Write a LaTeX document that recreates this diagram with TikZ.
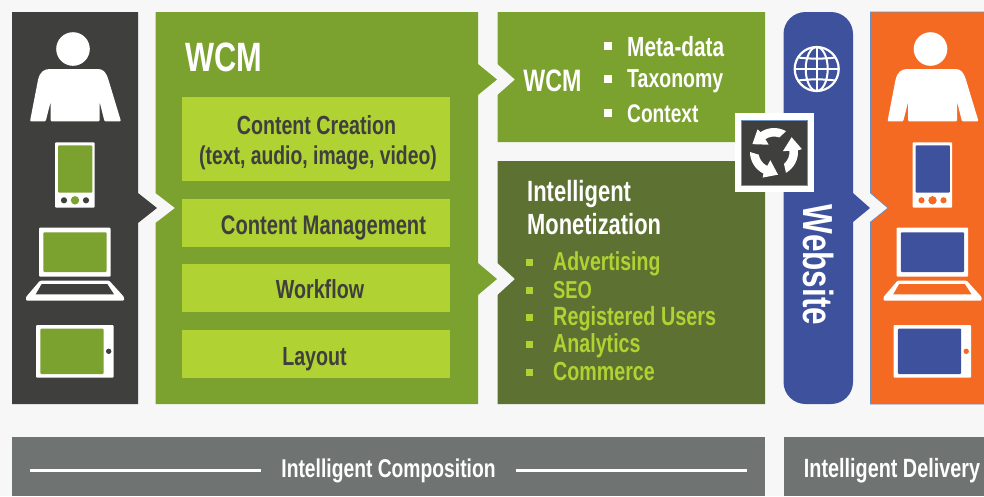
\documentclass[tikz,border=0pt]{standalone}
\usepackage{fontspec}
\setmainfont[FakeStretch=0.75,BoldFont={Liberation Sans Bold}]{Liberation Sans}
\definecolor{bgc}{HTML}{F7F7F7}
\definecolor{darkc}{HTML}{3F3F3D}
\definecolor{greenc}{HTML}{7BA12E}
\definecolor{limec}{HTML}{B0D233}
\definecolor{olivec}{HTML}{5D7132}
\definecolor{bluec}{HTML}{3E519D}
\definecolor{orangec}{HTML}{F46A22}
\definecolor{grayc}{HTML}{6F7472}
\definecolor{edgec}{HTML}{6A8FC0}
\tikzset{
  x=1pt,y=-1pt,
  lbl/.style={inner sep=0pt,anchor=base,font=\bfseries\fontsize{#1}{#1}\selectfont},
  whitetxt/.style={lbl=#1,text=white},
  darktxt/.style={lbl=#1,text=darkc},
  limetxt/.style={lbl=#1,text=limec},
  limebox/.style={fill=limec,draw=none},
}
% user icons: #1 x offset, #2 panel colour, #3 screen colour, #4 side dots, #5 middle dot
\newcommand{\devices}[5]{%
\begin{scope}[xshift=#1pt]
  \fill[white] (73,49) circle[radius=16.8];
  \fill[white,rounded corners=1pt] (30,121.3) -- (38,80) .. controls (40,72) and (44,69) .. (51,69) -- (97,69)
     .. controls (103,69) and (106,72) .. (108.5,80) -- (121,121.3) -- (104.5,121.3) -- (99.5,101.5) -- (99.5,121.3) -- (50.7,121.3) -- (50.7,101.5) -- (45.7,121.3) -- cycle;
  \fill[white,rounded corners=1pt] (55,142.3) rectangle (94.7,207.7);
  \fill[#3,rounded corners=1pt] (58,145.3) rectangle (92.3,192.7);
  \fill[#4] (64,200.3) circle[radius=3.1] (86,200.3) circle[radius=3.1];
  \fill[#5] (75,200.3) circle[radius=4.2];
  \fill[white,rounded corners=1pt] (39,227.7) rectangle (110.7,276.7);
  \fill[#3,rounded corners=1pt] (43.3,232.3) rectangle (106.7,272);
  \fill[white,rounded corners=1pt] (40,280.7) -- (109.3,280.7) -- (124,297) -- (124,300.7) -- (26,300.7) -- (26,297) -- cycle;
  \fill[#2] (41.7,284) -- (107.3,284) -- (114,294.3) -- (35.7,294.3) -- cycle;
  \fill[white,rounded corners=1pt] (36,325) rectangle (113.7,377.7);
  \fill[#3,rounded corners=1pt] (40.3,328.7) rectangle (103.7,374);
  \fill[#2] (108.7,351.3) circle[radius=2.7];
\end{scope}}
\begin{document}
\begin{tikzpicture}
\useasboundingbox (0,0) rectangle (984,496);
\fill[bgc] (0,0) rectangle (984,496);
% panels
\fill[darkc] (12,12) -- (138,12) -- (138,193) -- (157,208) -- (138,223) -- (138,404) -- (12,404) -- cycle;
\fill[greenc] (155.5,12) -- (478,12) -- (478,64) -- (497,79.5) -- (478,95) -- (478,263) -- (497,279) -- (478,295) -- (478,404) -- (155.5,404) -- (155.5,223) -- (175,208) -- (155.5,193) -- cycle;
\fill[greenc] (497.5,12) -- (765,12) -- (765,142) -- (497.5,142) -- (497.5,95) -- (515,79.5) -- (497.5,64) -- cycle;
\fill[olivec] (497.5,161) -- (765,161) -- (765,404) -- (497.5,404) -- (497.5,295) -- (515,279) -- (497.5,263) -- cycle;
\fill[bluec,rounded corners=22pt] (783.5,404) -- (783.5,12) -- (853,12) -- (853,404) -- cycle;
\fill[bluec] (852,193) -- (853,193) -- (870,208) -- (853,222) -- (852,222) -- cycle;
\fill[orangec,draw=edgec,line width=0.7pt] (990,12) -- (870.5,12) -- (870.5,193) -- (888,208) -- (870.5,222) -- (870.5,404) -- (990,404);
% inner boxes
\fill[limebox] (182,97) rectangle (450,181);
\fill[limebox] (182,199) rectangle (450,247);
\fill[limebox] (182,264) rectangle (450,312);
\fill[limebox] (182,330) rectangle (450,378);
% gray bars
\fill[grayc] (12,437) rectangle (765,496);
\fill[grayc] (784,437) rectangle (984,496);
\draw[white,line width=3pt] (30,470.5) -- (261,470.5);
\draw[white,line width=3pt] (516,470.5) -- (747,470.5);
% devices
\devices{0}{darkc}{greenc}{darkc}{greenc}
\devices{857.5}{orangec}{bluec}{orangec}{orangec}
% globe
\begin{scope}[shift={(816.7,69)}]
  \draw[white,line width=2.2pt] (0,0) circle[radius=22];
  \draw[white,line width=2pt] (0,-22) -- (0,22) (-22,0) -- (22,0);
  \draw[white,line width=2pt] (0,0) circle[x radius=11,y radius=22];
  \draw[white,line width=2pt] (-18.5,-11.5) .. controls (-8,-10) and (8,-10) .. (18.5,-11.5);
  \draw[white,line width=2pt] (-18.5,11.5) .. controls (-8,10) and (8,10) .. (18.5,11.5);
\end{scope}
% cycle icon
\fill[white] (735,113) rectangle (814,192);
\fill[darkc,draw=edgec,line width=0.7pt] (741.5,120) rectangle (807.5,185);
\begin{scope}[shift={(774,152)}]
\foreach \o in {0,120,240}{
  \fill[white] ({60+\o}:24) arc[start angle={60+\o},end angle={-4+\o},radius=24]
     -- ({-6+\o}:28) -- ({-40+\o}:23) -- ({-6+\o}:9) -- ({-4+\o}:15.5)
     arc[start angle={-4+\o},end angle={50+\o},radius=15.5] -- cycle;
}
\end{scope}
% texts
\node[whitetxt=41] (wcmA) at (224,71) {WCM};
\node[darktxt=26.2] (cc) at (316.5,134) {Content Creation};
\node[darktxt=25.8] (ccsub) at (318,164) {(text, audio, image, video)};
\node[darktxt=26.9] (cm) at (323.5,234) {Content Management};
\node[darktxt=26.2] (wf) at (320,298) {Workflow};
\node[darktxt=26.2] (lay) at (314.5,365) {Layout};
\node[whitetxt=31] (wcmB) at (552.5,91) {WCM};
\foreach \n/\y/\b/\s/\t in {a/46/56/27.7/Meta-data,b/79/87/26/Taxonomy,c/113/122/25.5/Context}{
  \fill[white] (604,{\y-4}) rectangle (612,{\y+4});
  \node[whitetxt=\s,anchor=base west] (s\n) at (627,\b) {\t};
}
\node[whitetxt=29.3,anchor=base west] (im1) at (527,201) {Intelligent};
\node[whitetxt=29.2,anchor=base west] (im2) at (527,234) {Monetization};
\foreach \n/\y/\s/\t in {a/270/26/Advertising,b/298/24.5/SEO,c/325/26.4/Registered Users,d/352/26.2/Analytics,e/380/26.2/Commerce}{
  \fill[limec] (525.5,{\y-11.5}) rectangle (532.5,{\y-4.5});
  \node[limetxt=\s,anchor=base west] (m\n) at (553,\y) {\t};
}
\node[whitetxt=42,rotate=-90] (site) at (803,265) {Website};
\node[whitetxt=25.7] (ic) at (388.5,477) {Intelligent Composition};
\node[whitetxt=26.4] (id) at (892,477) {Intelligent Delivery};
\end{tikzpicture}
\end{document}
